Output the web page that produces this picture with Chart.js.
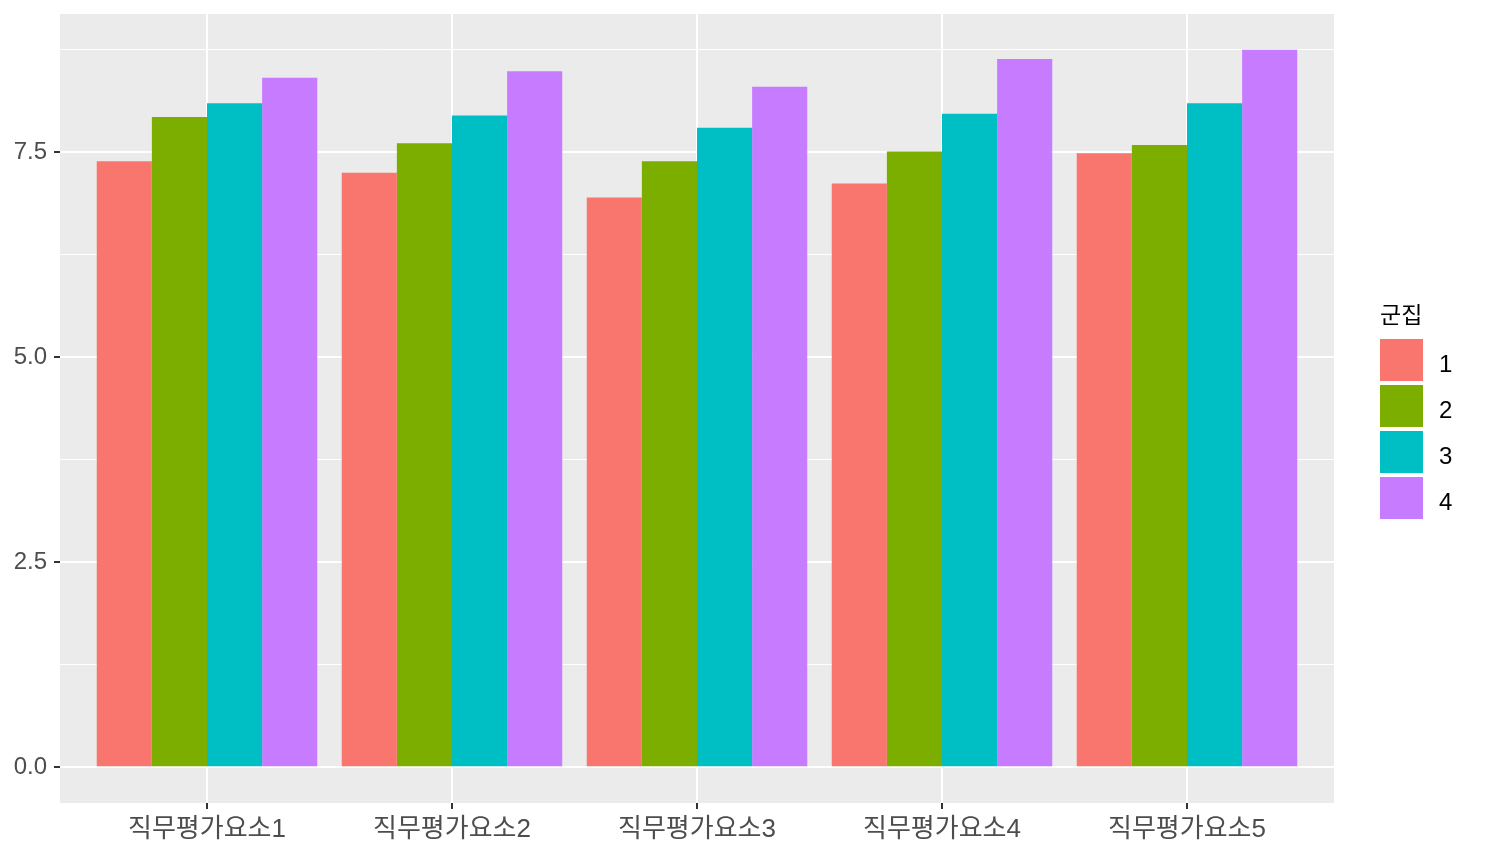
<!DOCTYPE html>
<html>
<head>
<meta charset="utf-8">
<script src="https://cdn.jsdelivr.net/npm/chart.js@4.4.0/dist/chart.umd.min.js"></script>
<style>
  html, body { margin: 0; padding: 0; background: #fff; }
</style>
</head>
<body>
<canvas id="chart" width="1486" height="856"></canvas>
<script>
const categories = ['직무평가요소1', '직무평가요소2', '직무평가요소3', '직무평가요소4', '직무평가요소5'];
const clusters = ['1', '2', '3', '4'];
const cluster1 = [7.39, 7.25, 6.95, 7.12, 7.49];
const cluster2 = [7.93, 7.61, 7.39, 7.51, 7.59];
const cluster3 = [8.10, 7.95, 7.80, 7.97, 8.10];
const cluster4 = [8.41, 8.49, 8.30, 8.64, 8.75];
const majorTicks = [0, 2.5, 5, 7.5];
const minorTicks = [1.25, 3.75, 6.25, 8.75];
const clusterColors = ['#F8766D', '#7CAE00', '#00BFC4', '#C77CFF'];

const FONT = '"Liberation Sans", "Noto Sans CJK KR", sans-serif';
const seriesValues = [cluster1, cluster2, cluster3, cluster4];

// ggplot-like expansion: 5% on y, 0.6 units on a discrete x
const yMaxData = Math.max(...seriesValues.flat());
const yPad = yMaxData * 0.05;

const datasets = seriesValues.map((vals, i) => ({
    label: clusters[i],
    data: vals.map((v, j) => ({ x: j + 1, y: v })),
    backgroundColor: clusterColors[i],
    borderWidth: 0
}));

// panel background
const panelBg = {
    id: 'panelBg',
    beforeDraw(chart) {
        const { ctx, chartArea: a } = chart;
        ctx.save();
        ctx.fillStyle = '#EBEBEB';
        ctx.fillRect(a.left, a.top, a.right - a.left, a.bottom - a.top);
        ctx.restore();
    }
};

// legend drawn to the right, ggplot style
const sideLegend = {
    id: 'sideLegend',
    afterDraw(chart) {
        const { ctx, chartArea: a } = chart;
        const x = a.right + 46;
        let y = 339;
        ctx.save();
        ctx.fillStyle = '#000';
        ctx.font = '23px ' + FONT;
        ctx.textBaseline = 'alphabetic';
        ctx.textAlign = 'left';
        ctx.fillText('군집', x, 323);
        chart.data.datasets.forEach(ds => {
            ctx.fillStyle = ds.backgroundColor;
            ctx.fillRect(x, y, 43, 42);
            ctx.fillStyle = '#000';
            ctx.font = '24px ' + FONT;
            ctx.textBaseline = 'middle';
            ctx.fillText(ds.label, x + 59, y + 26);
            y += 46;
        });
        ctx.restore();
    }
};

new Chart(document.getElementById('chart'), {
    type: 'bar',
    data: { datasets },
    options: {
        responsive: false,
        animation: false,
        layout: { padding: { top: 14, right: 152, left: 0, bottom: 0 } },
        plugins: { legend: { display: false }, tooltip: { enabled: false } },
        datasets: { bar: { categoryPercentage: 0.9, barPercentage: 1 } },
        scales: {
            x: {
                type: 'linear',
                offset: false,
                min: 0.4,
                max: categories.length + 0.6,
                afterBuildTicks: (scale) => {
                    scale.ticks = categories.map((c, i) => ({ value: i + 1 }));
                },
                afterFit: (scale) => { scale.height = 53; scale.paddingLeft = 0; scale.paddingRight = 0; },
                ticks: {
                    callback: (v) => categories[v - 1],
                    color: '#4D4D4D',
                    font: { family: FONT, size: 26 },
                    padding: 5,
                    maxRotation: 0,
                    autoSkip: false
                },
                grid: { offset: false, color: '#FFFFFF', lineWidth: 2, tickColor: '#333333', tickLength: 6, tickWidth: 2 },
                border: { display: false }
            },
            y: {
                min: -yPad,
                max: yMaxData + yPad,
                afterBuildTicks: (scale) => {
                    scale.ticks = [...majorTicks, ...minorTicks].sort((p, q) => p - q).map(v => ({ value: v }));
                },
                afterFit: (scale) => { scale.width = 60; scale.paddingTop = 0; scale.paddingBottom = 0; },
                ticks: {
                    callback: (v) => majorTicks.includes(v) ? v.toFixed(1) : '',
                    color: '#4D4D4D',
                    font: { family: FONT, size: 24 },
                    padding: 7,
                    autoSkip: false
                },
                grid: {
                    color: '#FFFFFF',
                    lineWidth: (c) => majorTicks.includes(c.tick && c.tick.value) ? 2 : 1,
                    tickColor: (c) => majorTicks.includes(c.tick && c.tick.value) ? '#333333' : 'rgba(0,0,0,0)',
                    tickLength: 6,
                    tickWidth: 2
                },
                border: { display: false }
            }
        }
    },
    plugins: [panelBg, sideLegend]
});
</script>
</body>
</html>
